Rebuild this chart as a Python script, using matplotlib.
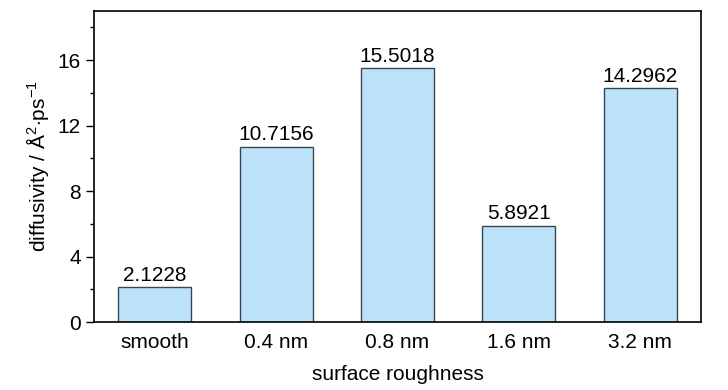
import numpy as np
import matplotlib
matplotlib.use("Agg")
import matplotlib.pyplot as plt
from matplotlib.ticker import MultipleLocator

categories = ["smooth", "0.4 nm", "0.8 nm", "1.6 nm", "3.2 nm"]
values = [2.1228, 10.7156, 15.5018, 5.8921, 14.2962]
labels = ["2.1228", "10.7156", "15.5018", "5.8921", "14.2962"]

plt.rcParams['font.family'] = ['Liberation Sans', 'DejaVu Sans']
plt.rcParams['mathtext.fontset'] = 'custom'
plt.rcParams['mathtext.rm'] = 'Liberation Sans'
plt.rcParams['mathtext.it'] = 'Liberation Sans'

fig = plt.figure(figsize=(7.28, 3.9), dpi=100)
ax = fig.add_axes([94/728, 1-322/390, (701-94)/728, (322-11)/390])

x = np.arange(len(categories))
ax.bar(x, values, width=0.6, color='#bde3fa', edgecolor='#3a4550', linewidth=1.0)
for xi, v, t in zip(x, values, labels):
    ax.text(xi, v + 0.15, t, ha='center', va='bottom', fontsize=15)

ax.set_xlim(-0.5, 4.5)
ax.set_ylim(0, 19)
ax.set_xticks(x)
ax.set_xticklabels(categories, fontsize=15)
ax.tick_params(axis='x', length=0, pad=8)
ax.yaxis.set_major_locator(MultipleLocator(4))
ax.yaxis.set_minor_locator(MultipleLocator(2))
ax.tick_params(axis='y', which='major', direction='out', length=6, width=1, labelsize=15)
ax.tick_params(axis='y', which='minor', direction='out', length=3, width=1)
for s in ax.spines.values():
    s.set_linewidth(1.2)

ax.set_xlabel("surface roughness", fontsize=15, labelpad=9)
ax.set_ylabel(r"diffusivity / Å$^{2}$$\cdot$ps$^{-1}$", fontsize=15, labelpad=5)

fig.savefig("out.png", dpi=100)
